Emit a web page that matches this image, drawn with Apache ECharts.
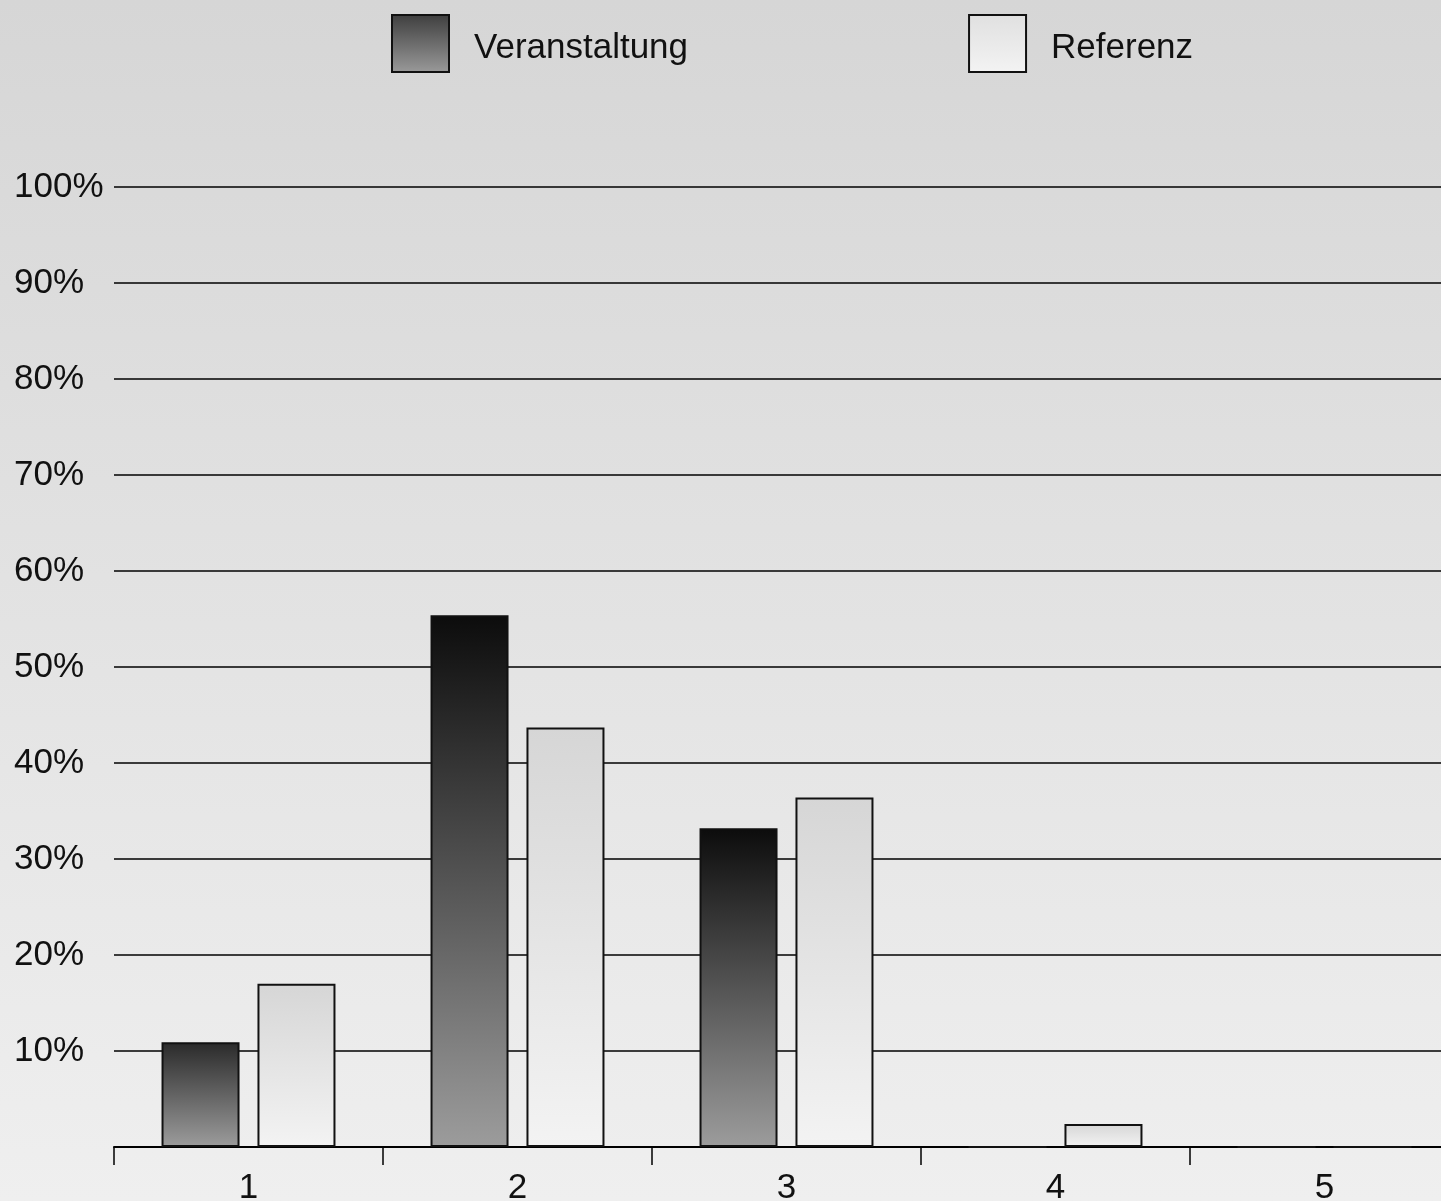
<!DOCTYPE html>
<html>
<head>
<meta charset="utf-8">
<script src="https://cdn.jsdelivr.net/npm/echarts@6/dist/echarts.min.js"></script>
<style>
  html, body { margin: 0; padding: 0; }
  #chart { width: 1441px; height: 1201px; }
</style>
</head>
<body>
<div id="chart"></div>
<script>
// Ratings 1..5 and share of answers (percent)
const categories = ['1', '2', '3', '4', '5'];
const veranstaltung = [10.9, 55.4, 33.2, 0, 0];
const referenz = [17.0, 43.7, 36.4, 2.4, 0];
const seriesNames = ['Veranstaltung', 'Referenz'];

const FONT = '"Liberation Sans", Arial, sans-serif';

function vGrad(top, bottom) {
  return new echarts.graphic.LinearGradient(0, 0, 0, 1, [
    { offset: 0, color: top },
    { offset: 1, color: bottom }
  ]);
}

// Dark bars fade from near-black to grey; short bars start a little lighter
function darkBarColor(params) {
  const top = params.value < 15 ? '#2a2a2a' : '#0c0c0c';
  return vGrad(top, '#9c9c9c');
}

const chart = echarts.init(document.getElementById('chart'), null, { renderer: 'canvas' });

chart.setOption({
  animation: false,
  backgroundColor: vGrad('#d6d6d6', '#efefef'),
  textStyle: { fontFamily: FONT },
  legend: {
    left: 391,
    top: 14,
    padding: 0,
    itemWidth: 57,
    itemHeight: 57,
    itemGap: 280,
    icon: 'rect',
    data: [
      { name: seriesNames[0], itemStyle: { color: vGrad('#3e3e3e', '#9a9a9a') } },
      { name: seriesNames[1], itemStyle: { color: vGrad('#e0e0e0', '#f3f3f3') } }
    ],
    formatter: '{t|{name}}',
    textStyle: {
      fontFamily: FONT, fontSize: 35, color: '#111', padding: [0, 0, 0, 20],
      rich: { t: { fontFamily: FONT, fontSize: 35, color: '#111', lineHeight: 44, verticalAlign: 'bottom' } }
    }
  },
  grid: { left: 114, top: 187, width: 1345, height: 960, outerBoundsMode: 'none', containLabel: false },
  xAxis: {
    type: 'category',
    data: categories,
    boundaryGap: true,
    axisLine: { lineStyle: { color: '#000', width: 2 } },
    axisTick: { show: true, length: 18, lineStyle: { color: '#000', width: 1.5 } },
    axisLabel: { fontFamily: FONT, fontSize: 35, color: '#111', margin: 24 },
    splitLine: { show: false }
  },
  yAxis: {
    type: 'value',
    min: 0,
    max: 100,
    interval: 10,
    axisLine: { show: false },
    axisTick: { show: false },
    axisLabel: {
      fontFamily: FONT, fontSize: 35, color: '#111',
      align: 'left', margin: 100,
      formatter: v => (v === 0 ? '' : v + '%')
    },
    splitLine: { lineStyle: { color: '#000', width: 1.5 } }
  },
  series: [
    {
      name: seriesNames[0],
      type: 'bar',
      data: veranstaltung,
      barWidth: 78,
      barGap: '23%',
      itemStyle: { color: darkBarColor, borderColor: '#111', borderWidth: 2 }
    },
    {
      name: seriesNames[1],
      type: 'bar',
      data: referenz,
      barWidth: 78,
      itemStyle: { color: vGrad('#d6d6d6', '#f3f3f3'), borderColor: '#111', borderWidth: 2 }
    }
  ]
});
</script>
</body>
</html>
